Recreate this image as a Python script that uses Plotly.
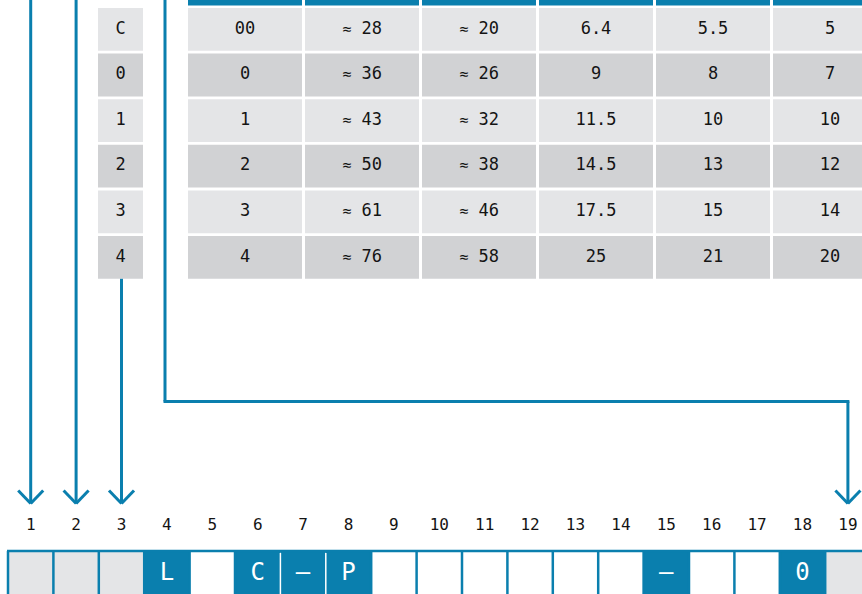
import plotly.graph_objects as go

# ---------------- data ----------------
row_labels = ["C", "0", "1", "2", "3", "4"]
col_code = ["00", "0", "1", "2", "3", "4"]
col_approx_a = [28, 36, 43, 50, 61, 76]
col_approx_b = [20, 26, 32, 38, 46, 58]
col_d = ["6.4", "9", "11.5", "14.5", "17.5", "25"]
col_e = ["5.5", "8", "10", "13", "15", "21"]
col_f = ["5", "7", "10", "12", "14", "20"]
positions = list(range(1, 20))
cell_chars = {4: "L", 6: "C", 7: "–", 8: "P", 15: "–", 18: "0"}
gray_positions = [1, 2, 3, 19]
arrow_positions = [1, 2, 3, 19]

# ---------------- style / layout constants ----------------
BLUE = "#0a7fae"
LIGHT = "#e4e5e7"
DARK = "#d1d2d4"
TXT = "#141414"
FONT = "DejaVu Sans Mono"

TABLE_X0, COL_PITCH, COL_W = 188, 117, 114
ROW_Y0, ROW_PITCH, ROW_H = 8, 45.6, 42.8
LABEL_X0, LABEL_W = 98, 45
CELL_X0, CELL_W, CELL_Y0 = 8, 45.4, 551
LABEL_Y = 526
ARROW_TIP = 503.5
BEND_Y = 401.5

shapes = []
fig = go.Figure()

def rect(x0, y0, x1, y1, fill, line_color=None, lw=0):
    shapes.append(dict(type="rect", xref="x", yref="y", x0=x0, y0=y0, x1=x1, y1=y1,
                       fillcolor=fill, line=dict(width=lw, color=line_color or fill),
                       layer="below"))

def seg(x0, y0, x1, y1, color=BLUE, w=3):
    shapes.append(dict(type="line", xref="x", yref="y", x0=x0, y0=y0, x1=x1, y1=y1,
                       line=dict(color=color, width=w)))

# ---------------- table ----------------
columns = [
    col_code,
    [f'<span style="font-size:15px">≈</span> {v}' for v in col_approx_a],
    [f'<span style="font-size:15px">≈</span> {v}' for v in col_approx_b],
    col_d, col_e, col_f,
]
for c in range(len(columns)):
    x0 = TABLE_X0 + c * COL_PITCH
    rect(x0, -10, x0 + COL_W, 5.5, BLUE)

for r, lab in enumerate(row_labels):
    y0 = ROW_Y0 + r * ROW_PITCH
    fill = LIGHT if r % 2 == 0 else DARK
    rect(LABEL_X0, y0, LABEL_X0 + LABEL_W, y0 + ROW_H, fill)
    for c in range(len(columns)):
        x0 = TABLE_X0 + c * COL_PITCH
        rect(x0, y0, x0 + COL_W, y0 + ROW_H, fill)

tx, ty, tt = [], [], []
for r, lab in enumerate(row_labels):
    yc = ROW_Y0 + r * ROW_PITCH + ROW_H / 2
    tx.append(LABEL_X0 + LABEL_W / 2); ty.append(yc); tt.append(lab)
    for c, col in enumerate(columns):
        tx.append(TABLE_X0 + c * COL_PITCH + COL_W / 2); ty.append(yc); tt.append(str(col[r]))
fig.add_trace(go.Scatter(x=tx, y=ty, text=tt, mode="text",
                         textfont=dict(family=FONT, size=17, color=TXT),
                         hoverinfo="skip", showlegend=False))

# ---------------- bottom position row ----------------
def cell_left(p):
    return CELL_X0 + (p - 1) * CELL_W

def cell_center(p):
    return cell_left(p) + CELL_W / 2

for p in positions:
    if p in cell_chars:
        fill = BLUE
    elif p in gray_positions:
        fill = LIGHT
    else:
        fill = "white"
    rect(cell_left(p), CELL_Y0, cell_left(p) + CELL_W, 610, fill)

for p in positions + [positions[-1] + 1]:
    xb = cell_left(p)
    both_blue = (p in cell_chars) and (p - 1 in cell_chars)
    if both_blue:
        seg(xb, CELL_Y0 + 2, xb, 610, color="white", w=1.5)
    else:
        seg(xb, CELL_Y0, xb, 610, color=BLUE, w=2.5)
seg(CELL_X0 - 1, CELL_Y0, 870, CELL_Y0, color=BLUE, w=2.5)

fig.add_trace(go.Scatter(x=[cell_center(p) for p in positions], y=[LABEL_Y] * len(positions),
                         text=[str(p) for p in positions], mode="text",
                         textfont=dict(family=FONT, size=16, color=TXT),
                         hoverinfo="skip", showlegend=False))
fig.add_trace(go.Scatter(x=[cell_center(p) for p in cell_chars], y=[574] * len(cell_chars),
                         text=list(cell_chars.values()), mode="text",
                         textfont=dict(family=FONT, size=24, color="white"),
                         hoverinfo="skip", showlegend=False))

# ---------------- connector arrows ----------------
def arrow_head(x):
    seg(x - 12.5, ARROW_TIP - 13, x, ARROW_TIP)
    seg(x, ARROW_TIP, x + 12.5, ARROW_TIP - 13)

# position 1 and 2: straight down from top
for p in arrow_positions[:2]:
    seg(cell_center(p), -5, cell_center(p), ARROW_TIP)
    arrow_head(cell_center(p))
# position 3: from the row-label column
last_row_bottom = ROW_Y0 + (len(row_labels) - 1) * ROW_PITCH + ROW_H
seg(cell_center(3), last_row_bottom, cell_center(3), ARROW_TIP)
arrow_head(cell_center(3))
# position 19: routed line
xr = 165
xe = cell_center(arrow_positions[-1])
seg(xr, -5, xr, BEND_Y)
seg(xr - 1.5, BEND_Y, xe + 1.5, BEND_Y)
seg(xe, BEND_Y, xe, ARROW_TIP)
arrow_head(xe)

fig.update_layout(
    width=862, height=594, autosize=False,
    margin=dict(l=0, r=0, t=0, b=0, pad=0),
    paper_bgcolor="white", plot_bgcolor="white",
    shapes=shapes,
    xaxis=dict(range=[0, 862], visible=False, fixedrange=True),
    yaxis=dict(range=[594, 0], visible=False, fixedrange=True),
    showlegend=False,
)
fig.write_html("out.html", config={"displayModeBar": False},
               post_script="document.body.style.margin='0';document.body.style.overflow='hidden';")
